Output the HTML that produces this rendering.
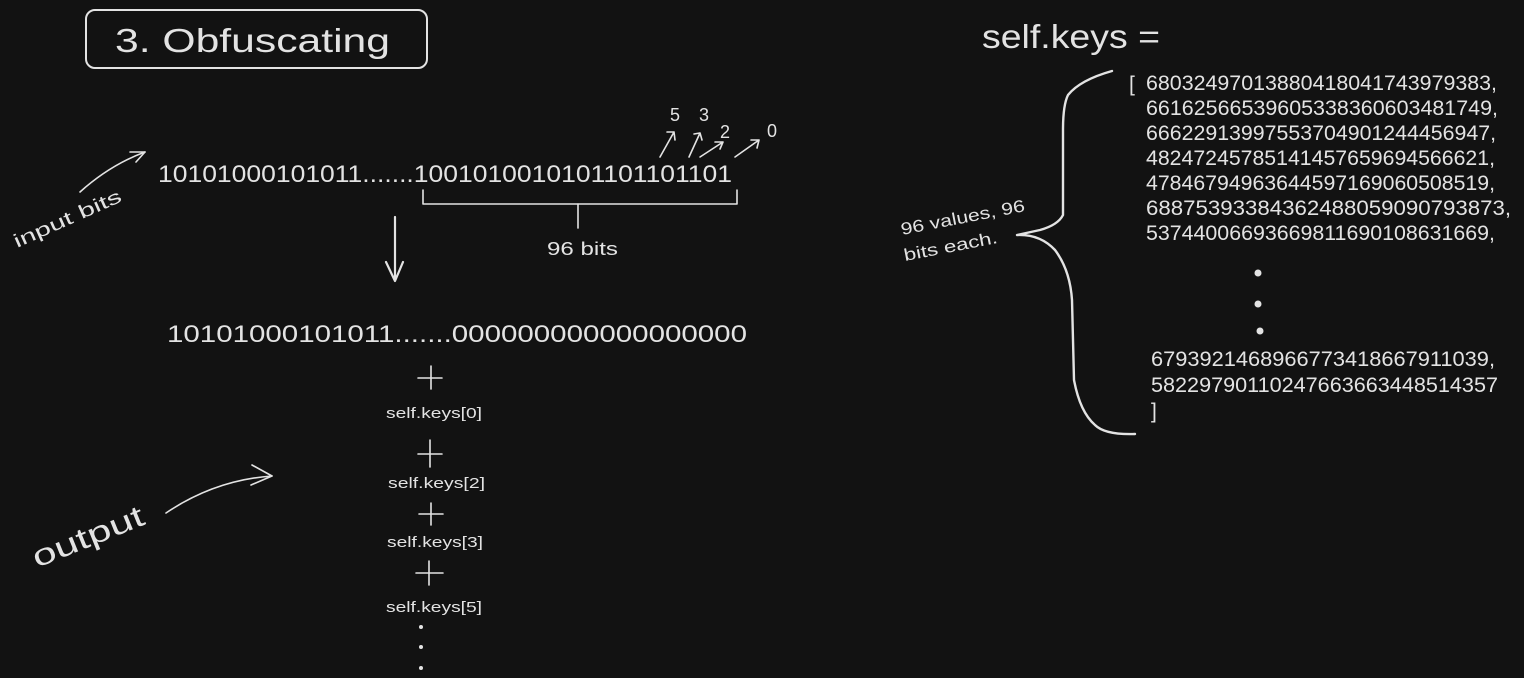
<!DOCTYPE html>
<html><head><meta charset="utf-8"><style>
html,body{margin:0;padding:0;background:#121212;}
svg{display:block}
text{font-family:"Liberation Sans",sans-serif;fill:#e3e3e3;}
</style></head><body>
<svg width="1524" height="678" viewBox="0 0 1524 678" xmlns="http://www.w3.org/2000/svg">
<rect width="1524" height="678" fill="#121212"/>
<g fill="none" stroke="#e3e3e3" stroke-width="1.6" stroke-linecap="round" stroke-linejoin="round">
<rect x="86" y="10" width="341" height="58" rx="9" stroke-width="2"/>
<path d="M80 192 Q110 165 145 152"/><path d="M130 152 L145 152 L136 162"/>
<path d="M166 513 Q215 480 272 476"/><path d="M252 465 L272 476 L251 485"/>
<path d="M660 157 L674 132 M667 132 L674 132 L675 140"/>
<path d="M689 157 L700 133 M694 134 L700 133 L702 140"/>
<path d="M700 157 L723 142 M715 142 L723 142 L720 149"/>
<path d="M735 157 L759 140 M751 140 L759 140 L757 148"/>
<path d="M423 190 L423 204 L737 204 L737 190"/><path d="M578 204 L578 228"/>
<path d="M395 217 L395 280 M386 262 L395 281 L403 262" stroke-width="2.2"/>
<path d="M418 378 L442 378 M431 366 L431 389"/>
<path d="M418 454 L442 454 M430 440 L430 467"/>
<path d="M419 514 L443 514 M431 503 L431 525"/>
<path d="M416 573 L443 573 M429 561 L429 585"/>
<path d="M1112 71 Q1080 80 1068 95 Q1063 105 1063 130 L1063 215 Q1058 225 1040 230 L1017 235 Q1040 234 1055 250 Q1070 270 1072 300 L1074 380 Q1080 412 1095 425 Q1105 435 1135 434" stroke-width="2.4"/>
</g>
<g fill="#e3e3e3">
<circle cx="1258" cy="273" r="3.5"/><circle cx="1258" cy="304" r="3.5"/><circle cx="1260" cy="331" r="3.5"/>
<circle cx="421" cy="627" r="2"/><circle cx="421" cy="647" r="2"/><circle cx="421" cy="668" r="2"/>
</g>
<text x="115" y="52" font-size="33" textLength="275" lengthAdjust="spacingAndGlyphs">3. Obfuscating</text>
<text x="982" y="48" font-size="33" textLength="178" lengthAdjust="spacingAndGlyphs">self.keys =</text>
<text x="158" y="182" font-size="24" textLength="574" lengthAdjust="spacingAndGlyphs">10101000101011.......1001010010101101101101</text>
<text x="167" y="342" font-size="24" textLength="580" lengthAdjust="spacingAndGlyphs">10101000101011.......000000000000000000</text>
<text x="547" y="255" font-size="18" textLength="71" lengthAdjust="spacingAndGlyphs">96 bits</text>
<text x="670" y="121" font-size="18">5</text>
<text x="699" y="121" font-size="18">3</text>
<text x="720" y="138" font-size="18">2</text>
<text x="767" y="137" font-size="18">0</text>
<text x="386" y="418" font-size="15" textLength="96" lengthAdjust="spacingAndGlyphs">self.keys[0]</text>
<text x="388" y="488" font-size="15" textLength="97" lengthAdjust="spacingAndGlyphs">self.keys[2]</text>
<text x="387" y="547" font-size="15" textLength="96" lengthAdjust="spacingAndGlyphs">self.keys[3]</text>
<text x="386" y="612" font-size="15" textLength="96" lengthAdjust="spacingAndGlyphs">self.keys[5]</text>
<text transform="translate(17,248) rotate(-24)" font-size="19" textLength="116" lengthAdjust="spacingAndGlyphs">input bits</text>
<text transform="translate(37,568) rotate(-22)" font-size="30" textLength="118" lengthAdjust="spacingAndGlyphs">output</text>
<text transform="translate(902,235) rotate(-11)" font-size="17" textLength="126" lengthAdjust="spacingAndGlyphs">96 values, 96</text>
<text transform="translate(905,261) rotate(-11)" font-size="17" textLength="95" lengthAdjust="spacingAndGlyphs">bits each.</text>
<g font-size="21">
<text x="1129" y="91">[</text>
<text x="1146" y="90" textLength="351" lengthAdjust="spacingAndGlyphs">68032497013880418041743979383,</text>
<text x="1146" y="115" textLength="352" lengthAdjust="spacingAndGlyphs">66162566539605338360603481749,</text>
<text x="1146" y="140" textLength="350" lengthAdjust="spacingAndGlyphs">66622913997553704901244456947,</text>
<text x="1146" y="165" textLength="349" lengthAdjust="spacingAndGlyphs">48247245785141457659694566621,</text>
<text x="1146" y="190" textLength="349" lengthAdjust="spacingAndGlyphs">47846794963644597169060508519,</text>
<text x="1146" y="215" textLength="365" lengthAdjust="spacingAndGlyphs">68875393384362488059090793873,</text>
<text x="1146" y="240" textLength="349" lengthAdjust="spacingAndGlyphs">53744006693669811690108631669,</text>
<text x="1151" y="366" textLength="344" lengthAdjust="spacingAndGlyphs">6793921468966773418667911039,</text>
<text x="1151" y="392" textLength="347" lengthAdjust="spacingAndGlyphs">58229790110247663663448514357</text>
<text x="1151" y="418">]</text>
</g>
</svg>
</body></html>
